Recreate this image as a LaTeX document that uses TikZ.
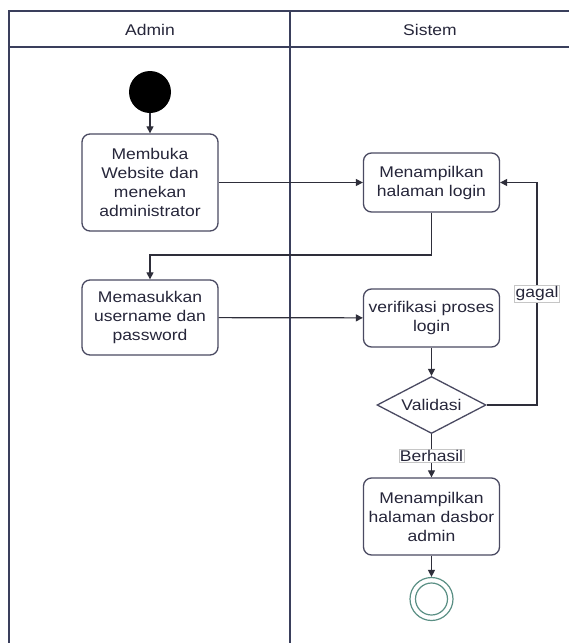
\documentclass[tikz,border=0pt]{standalone}
\usepackage{fontspec}
\setmainfont[FakeStretch=1.13]{Liberation Sans}
\usetikzlibrary{shapes.geometric,arrows.meta}

\definecolor{frameclr}{HTML}{3A3F5C}
\definecolor{lineclr}{HTML}{2E2E3A}
\definecolor{boxclr}{HTML}{4A4A62}
\definecolor{txtclr}{HTML}{26263A}
\definecolor{endclr}{HTML}{5A8F84}

\tikzset{
  lane/.style={draw=frameclr, line width=1.6pt},
  act/.style={draw=boxclr, rounded corners=8pt, line width=1.3pt, fill=white,
    align=center, text=txtclr, minimum width=136pt, inner sep=2pt,
    font=\fontsize{15.5pt}{19pt}\selectfont},
  decision/.style={draw=boxclr, diamond, line width=1.3pt, fill=white, aspect=1.9,
    minimum width=109pt, minimum height=57pt, inner sep=0pt, text=txtclr,
    font=\fontsize{15.5pt}{19pt}\selectfont},
  flow/.style={draw=lineclr, line width=1.2pt, -{Triangle[length=7pt,width=7pt]}},
  guard/.style={draw=gray!45, fill=white, line width=0.6pt, inner sep=1pt,
    text=txtclr, font=\fontsize{15.5pt}{18pt}\selectfont},
  header/.style={text=txtclr, font=\fontsize{15.5pt}{19pt}\selectfont}
}

\begin{document}
\begin{tikzpicture}[x=1pt,y=-1pt]
\useasboundingbox (0,0) rectangle (569,643);
\fill[white] (0,0) rectangle (569,643);

% swimlanes
\draw[lane] (569,11) -- (9,11) -- (9,643);
\draw[lane] (9,47) -- (569,47);
\draw[frameclr, line width=2.4pt] (290,11) -- (290,643);
\node[header] (hadmin) at (150,29.5) {Admin};
\node[header] (hsistem) at (430,29.5) {Sistem};

% activities
\node[circle, fill=black, minimum size=42pt, inner sep=0pt] (start) at (150,92) {};
\node[act, minimum height=97pt] (open) at (150,182.5) {Membuka\\Website dan\\menekan\\administrator};
\node[act, minimum height=75pt] (input) at (150,317.5) {Memasukkan\\username dan\\password};
\node[act, minimum height=59pt] (login) at (431.5,182.5) {Menampilkan\\halaman login};
\node[act, minimum height=58pt] (verify) at (431.5,318) {verifikasi proses\\login};
\node[decision] (valid) at (431.5,405) {Validasi};
\node[act, minimum height=77pt] (dash) at (431.5,516.5) {Menampilkan\\halaman dasbor\\admin};
\node[circle, draw=endclr, line width=1.2pt, minimum size=43pt, inner sep=0pt] (stop) at (431.5,599) {};
\draw[endclr, line width=1.2pt] (stop.center) circle (16pt);

% control flow
\coordinate (turn) at (537,405);
\draw[flow] (start) -- (open);
\draw[flow] (open) -- (login);
\draw[flow] (login.south) |- (150,255) -- (input.north);
\draw[flow] (input) -- (verify);
\draw[flow] (verify) -- (valid);
\draw[flow] (valid.east) -- (turn) |- (login.east)
  node[guard, pos=0.25] (fail) {gagal};
\draw[flow] (valid.south) -- (dash.north)
  node[guard, pos=0.5] (ok) {Berhasil};
\draw[flow] (dash) -- (stop);
\end{tikzpicture}
\end{document}
